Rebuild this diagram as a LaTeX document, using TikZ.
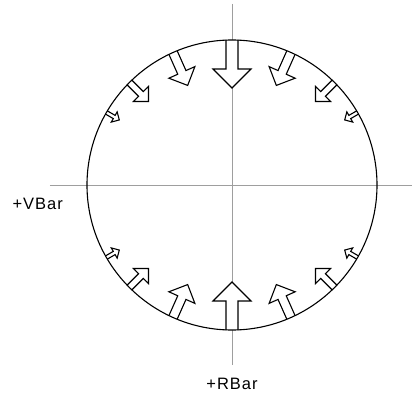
\documentclass[tikz,border=0pt]{standalone}
\usepackage{fontspec}
\newfontfamily\barfont[LetterSpace=6]{Liberation Sans}
\usetikzlibrary{positioning}

\begin{document}
\begin{tikzpicture}[
        x=1pt, y=1pt,
        axis/.style={draw=black!38, line width=0.9pt},
        rim/.style={draw=black, line width=1.1pt},
        push/.style={draw=black, line width=1.1pt, fill=white, line join=miter},
        barlabel/.style={font=\barfont\fontsize{16.5}{18}\selectfont, inner sep=0pt},
        force/.pic={\draw[push] (0,6) -- (29,6) -- (29,19) -- (48,0) -- (29,-19) -- (29,-6) -- (0,-6);}
    ]
        \useasboundingbox (-232,-211) rectangle (180,185);

        % Trục
        \coordinate (centre) at (0,0);
        \coordinate (ytop) at (0,181);
        \coordinate (ybot) at (0,-180);
        \coordinate (xleft) at (-182,0);
        \coordinate (xright) at (180,0);
        \draw [axis] (ytop) -- (ybot);
        \draw [axis] (xleft) -- (xright);

        % Lực phía trên
        \pic [rotate=270] at (90:145) {force};
        \pic [rotate=294, scale=0.75] at (114:145) {force};
        \pic [rotate=246, scale=0.75] at (66:145) {force};
        \pic [rotate=315, scale=0.56] at (135:145) {force};
        \pic [rotate=225, scale=0.56] at (45:145) {force};
        \pic [rotate=330, scale=0.31] at (150:145) {force};
        \pic [rotate=210, scale=0.31] at (30:145) {force};

        % Lực phía dưới
        \pic [rotate=90] at (270:145) {force};
        \pic [rotate=66, scale=0.75] at (246:145) {force};
        \pic [rotate=114, scale=0.75] at (294:145) {force};
        \pic [rotate=45, scale=0.56] at (225:145) {force};
        \pic [rotate=135, scale=0.56] at (315:145) {force};
        \pic [rotate=30, scale=0.31] at (210:145) {force};
        \pic [rotate=150, scale=0.31] at (330:145) {force};

        % Vòng tròn
        \draw [rim] (centre) circle [radius=145];

        % Nhãn
        \node (vbar) [barlabel, anchor=north east] at (-169,-13) {+VBar};
        \node (rbar) [barlabel, below=13pt of ybot] {+RBar};
    \end{tikzpicture}
\end{document}
